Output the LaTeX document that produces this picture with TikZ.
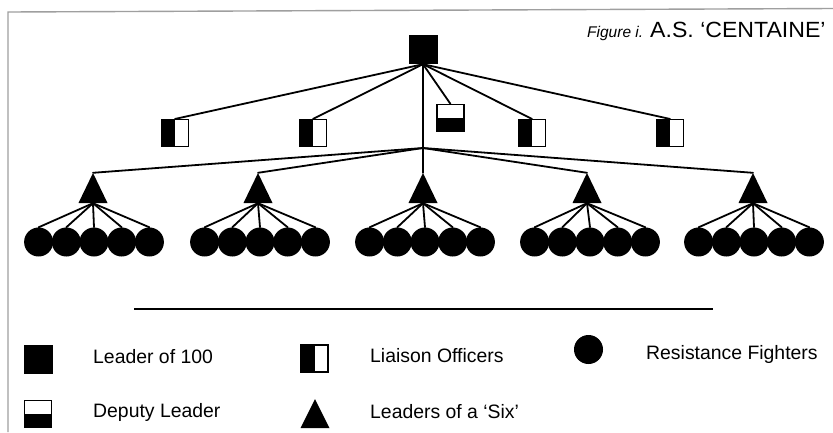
\documentclass[tikz,border=0pt]{standalone}
\usepackage{fontspec}
\usepackage{graphicx}
\setmainfont{Liberation Sans}
\begin{document}
\begin{tikzpicture}[x=1pt,y=-1pt,
  link/.style={line width=1.8pt, line cap=round},
  leaderbox/.style={rectangle, fill=black, minimum size=29pt, inner sep=0pt},
  liaisonbox/.style={rectangle, draw=black, line width=1.1pt, fill=white,
    minimum size=27pt, inner sep=0pt,
    path picture={\fill[black] (path picture bounding box.south west)
      rectangle (path picture bounding box.north);}},
  deputybox/.style={rectangle, draw=black, line width=1.1pt, fill=white,
    minimum size=27pt, inner sep=0pt,
    path picture={\fill[black] (path picture bounding box.south west)
      rectangle (path picture bounding box.east);}},
  sixlead/.style={rectangle, minimum width=29pt, minimum height=30pt, inner sep=0pt,
    path picture={\fill[black] (path picture bounding box.south west)
      -- (path picture bounding box.south east)
      -- (path picture bounding box.north) -- cycle;}},
  fighter/.style={circle, fill=black, minimum size=29pt, inner sep=0pt},
  legendtext/.style={anchor=base west, inner sep=0pt,
    font=\fontsize{19.4}{23}\selectfont}
]
\useasboundingbox[fill=white] (0,0) rectangle (833,432);

% page frame
\draw[gray!75, line width=1.4pt] (8,432) -- (8,12) -- (833,8.5);

% title
\node[anchor=base west, inner sep=0pt] (figlabel) at (587,37)
  {\fontsize{15.5}{18}\selectfont\itshape Figure i.};
\node[anchor=base west, inner sep=0pt] (title) at (650,37.5)
  {\scalebox{1.05}[1]{\fontsize{22}{26}\selectfont A.S. ‘CENTAINE’}};

% command level
\node[leaderbox] (lead) at (423,49.5) {};
\node[deputybox] (dep) at (450.5,118) {};
\node[liaisonbox] (li1) at (175,133) {};
\node[liaisonbox] (li2) at (313,133) {};
\node[liaisonbox] (li3) at (532,133) {};
\node[liaisonbox] (li4) at (670,133) {};

\foreach \n in {li1,li2,dep,li3,li4}
  \draw[link] (lead.south) -- (\n.north);

% trunk down to the leaders of the sixes
\coordinate (hub) at (423,148);
\draw[link] (lead.south) -- (hub);

\foreach \i/\tx/\gx in {1/93/94, 2/258/260, 3/423/425, 4/587/590, 5/753/754} {
  \node[sixlead] (six\i) at (\tx,188) {};
  \draw[link] (hub) -- (six\i.north);
  \foreach \k in {-2,...,2} {
    \node[fighter] (f\i\k) at ({\gx+27.7*\k},242) {};
    \draw[link] (six\i.south) -- (f\i\k.north);
  }
}

% divider
\draw[line width=1.5pt] (134,309) -- (713,309);

% legend
\node[leaderbox] (keylead) at (38,359.5) {};
\node[legendtext] (keyleadtxt) at (93,363) {Leader of 100};
\node[deputybox] (keydep) at (38,414) {};
\node[legendtext] (keydeptxt) at (93,417) {Deputy Leader};
\node[liaisonbox] (keyli) at (314.5,358.5) {};
\node[legendtext] (keylitxt) at (370,362) {Liaison Officers};
\node[sixlead, minimum height=29pt] (keysix) at (315,413.5) {};
\node[legendtext] (keysixtxt) at (370,418) {Leaders of a ‘Six’};
\node[fighter] (keyfight) at (588.5,349.5) {};
\node[legendtext] (keyfighttxt) at (646,359) {Resistance Fighters};
\end{tikzpicture}
\end{document}
